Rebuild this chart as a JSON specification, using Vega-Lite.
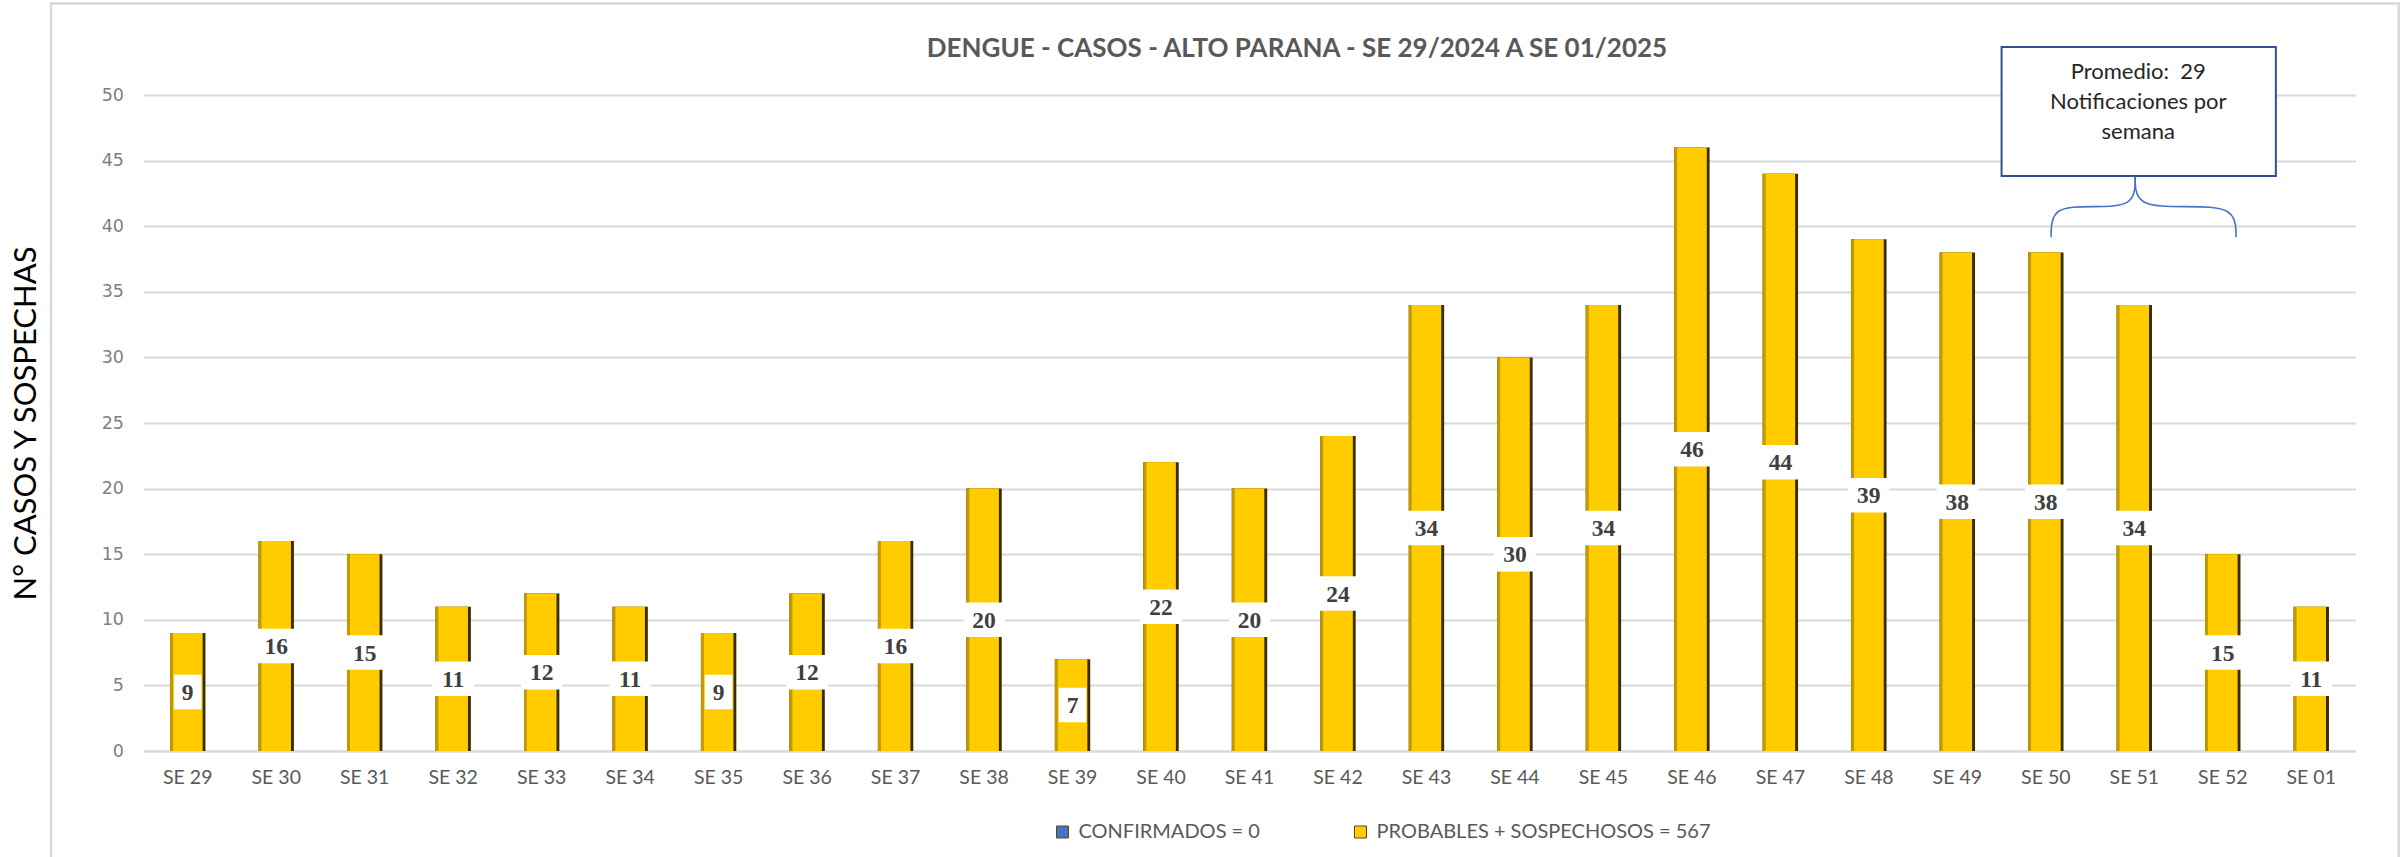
{
  "$schema": "https://vega.github.io/schema/vega-lite/v6.json",
  "width": 2212,
  "height": 656,
  "autosize": {"type": "none"},
  "padding": {"left": 143.5, "top": 95, "right": 46.5, "bottom": 106},
  "background": "white",
  "title": {
    "text": "DENGUE - CASOS - ALTO PARANA - SE 29/2024 A SE 01/2025",
    "font": "Lato", "fontSize": 26, "fontWeight": "bold", "color": "#595959",
    "anchor": "middle", "frame": "group", "dx": 47.5, "baseline": "middle", "offset": -73
  },
  "config": {"view": {"stroke": null}},
  "datasets": {
    "bars": [
      {"sem": "SE 29", "v": 9, "serie": "PROBABLES + SOSPECHOSOS = 567"},
      {"sem": "SE 30", "v": 16, "serie": "PROBABLES + SOSPECHOSOS = 567"},
      {"sem": "SE 31", "v": 15, "serie": "PROBABLES + SOSPECHOSOS = 567"},
      {"sem": "SE 32", "v": 11, "serie": "PROBABLES + SOSPECHOSOS = 567"},
      {"sem": "SE 33", "v": 12, "serie": "PROBABLES + SOSPECHOSOS = 567"},
      {"sem": "SE 34", "v": 11, "serie": "PROBABLES + SOSPECHOSOS = 567"},
      {"sem": "SE 35", "v": 9, "serie": "PROBABLES + SOSPECHOSOS = 567"},
      {"sem": "SE 36", "v": 12, "serie": "PROBABLES + SOSPECHOSOS = 567"},
      {"sem": "SE 37", "v": 16, "serie": "PROBABLES + SOSPECHOSOS = 567"},
      {"sem": "SE 38", "v": 20, "serie": "PROBABLES + SOSPECHOSOS = 567"},
      {"sem": "SE 39", "v": 7, "serie": "PROBABLES + SOSPECHOSOS = 567"},
      {"sem": "SE 40", "v": 22, "serie": "PROBABLES + SOSPECHOSOS = 567"},
      {"sem": "SE 41", "v": 20, "serie": "PROBABLES + SOSPECHOSOS = 567"},
      {"sem": "SE 42", "v": 24, "serie": "PROBABLES + SOSPECHOSOS = 567"},
      {"sem": "SE 43", "v": 34, "serie": "PROBABLES + SOSPECHOSOS = 567"},
      {"sem": "SE 44", "v": 30, "serie": "PROBABLES + SOSPECHOSOS = 567"},
      {"sem": "SE 45", "v": 34, "serie": "PROBABLES + SOSPECHOSOS = 567"},
      {"sem": "SE 46", "v": 46, "serie": "PROBABLES + SOSPECHOSOS = 567"},
      {"sem": "SE 47", "v": 44, "serie": "PROBABLES + SOSPECHOSOS = 567"},
      {"sem": "SE 48", "v": 39, "serie": "PROBABLES + SOSPECHOSOS = 567"},
      {"sem": "SE 49", "v": 38, "serie": "PROBABLES + SOSPECHOSOS = 567"},
      {"sem": "SE 50", "v": 38, "serie": "PROBABLES + SOSPECHOSOS = 567"},
      {"sem": "SE 51", "v": 34, "serie": "PROBABLES + SOSPECHOSOS = 567"},
      {"sem": "SE 52", "v": 15, "serie": "PROBABLES + SOSPECHOSOS = 567"},
      {"sem": "SE 01", "v": 11, "serie": "PROBABLES + SOSPECHOSOS = 567"}
    ],
    "frame": [
      {"x": -1.0456, "x2": 25.489, "y": 56.97, "y2": -10}
    ],
    "brace": [
      {"g": 1, "o": 1, "x": 21.56, "y": 39.15},
      {"g": 1, "o": 2, "x": 21.56, "y": 41.49},
      {"g": 1, "o": 3, "x": 22.03, "y": 41.49},
      {"g": 1, "o": 4, "x": 22.51, "y": 41.49},
      {"g": 1, "o": 5, "x": 22.51, "y": 43.75},
      {"g": 2, "o": 6, "x": 22.51, "y": 43.75},
      {"g": 2, "o": 7, "x": 22.51, "y": 41.49},
      {"g": 2, "o": 8, "x": 23.08, "y": 41.49},
      {"g": 2, "o": 9, "x": 23.65, "y": 41.49},
      {"g": 2, "o": 10, "x": 23.65, "y": 39.15}
    ],
    "callout": [
      {"x": 21.0, "x2": 24.1, "y": 53.66, "y2": 43.83, "tx": 22.545, "ty": 51.78, "txt": "Promedio:\u00a0 29\nNotificaciones por\nsemana"}
    ]
  },
  "resolve": {"scale": {"x": "independent", "y": "independent"}},
  "layer": [
    {
      "data": {"name": "frame"},
      "mark": {"type": "rect", "fillOpacity": 0, "stroke": "#D9D9D9", "strokeWidth": 2.5, "clip": false},
      "encoding": {
        "x": {"field": "x", "type": "quantitative", "scale": {"domain": [0, 25]}, "axis": null},
        "x2": {"field": "x2"},
        "y": {"field": "y", "type": "quantitative", "scale": {"domain": [0, 50]}, "axis": null},
        "y2": {"field": "y2"}
      }
    },
    {
      "data": {"name": "bars"},
      "mark": {"type": "bar", "color": "#3A2E00"},
      "encoding": {
        "x": {
          "field": "sem", "type": "nominal", "sort": null,
          "scale": {"type": "band", "paddingInner": 0.6, "paddingOuter": 0.3},
          "axis": {
            "title": null, "labelAngle": 0, "ticks": false, "domain": true,
            "domainColor": "#D9D9D9", "domainWidth": 2, "grid": false,
            "labelFont": "Lato", "labelFontSize": 19.5, "labelColor": "#595959", "labelPadding": 17
          }
        },
        "y": {
          "field": "v", "type": "quantitative",
          "scale": {"domain": [0, 50]},
          "axis": {
            "values": [0, 5, 10, 15, 20, 25, 30, 35, 40, 45, 50],
            "grid": true, "gridColor": "#D9D9D9", "gridWidth": 2,
            "domain": false, "ticks": false,
            "labelFont": "DejaVu Sans", "labelFontSize": 17.5, "labelColor": "#7F7F7F", "labelPadding": 20,
            "title": "N° CASOS Y SOSPECHAS", "titleFont": "Lato", "titleFontSize": 31,
            "titleFontWeight": "normal", "titleColor": "#000000",
            "titleX": -117, "titleY": 328, "titleAngle": -90, "titleAlign": "center", "titleBaseline": "middle"
          }
        }
      }
    },
    {
      "data": {"name": "bars"},
      "mark": {"type": "bar", "color": "#C29A00", "width": 32.4, "xOffset": -1.5},
      "encoding": {
        "x": {"field": "sem", "type": "nominal", "sort": null, "scale": {"type": "band", "paddingInner": 0.6, "paddingOuter": 0.3}, "axis": null},
        "y": {"field": "v", "type": "quantitative", "scale": {"domain": [0, 50]}, "axis": null}
      }
    },
    {
      "data": {"name": "bars"},
      "mark": {"type": "bar", "width": 29.4, "opacity": 1},
      "encoding": {
        "x": {"field": "sem", "type": "nominal", "sort": null, "scale": {"type": "band", "paddingInner": 0.6, "paddingOuter": 0.3}, "axis": null},
        "y": {"field": "v", "type": "quantitative", "scale": {"domain": [0, 50]}, "axis": null},
        "color": {
          "field": "serie", "type": "nominal",
          "scale": {"domain": ["CONFIRMADOS = 0", "PROBABLES + SOSPECHOSOS = 567"], "range": ["#4472C4", "#FFCC00"]},
          "legend": {
            "orient": "none", "legendX": 909, "legendY": 727, "direction": "horizontal", "title": null,
            "symbolType": "square", "symbolSize": 144, "symbolStrokeWidth": 1, "symbolStrokeColor": "#5A4A10",
            "labelFont": "Lato", "labelFontSize": 20, "labelColor": "#595959", "labelLimit": 0,
            "columnPadding": 90, "labelOffset": 6
          }
        }
      }
    },
    {
      "data": {"name": "bars"},
      "mark": {"type": "point", "filled": true, "fill": "#FFFFFF", "opacity": 1, "strokeWidth": 0, "size": 1190},
      "encoding": {
        "x": {"field": "sem", "type": "nominal", "sort": null, "scale": {"type": "band", "paddingInner": 0.6, "paddingOuter": 0.3}, "axis": null},
        "y": {"field": "v", "type": "quantitative", "scale": {"domain": [0, 100]}, "axis": null},
        "shape": {"condition": {"test": "datum.v < 10", "value": "M-0.8,-1H0.8V1H-0.8Z"}, "value": "M-1.2,-1H1.2V1H-1.2Z"}
      }
    },
    {
      "data": {"name": "bars"},
      "mark": {"type": "text", "font": "Liberation Serif", "fontWeight": "bold", "fontSize": 23.5, "color": "#404040", "baseline": "middle", "align": "center", "dy": 1},
      "encoding": {
        "x": {"field": "sem", "type": "nominal", "sort": null, "scale": {"type": "band", "paddingInner": 0.6, "paddingOuter": 0.3}, "axis": null},
        "y": {"field": "v", "type": "quantitative", "scale": {"domain": [0, 100]}, "axis": null},
        "text": {"field": "v", "type": "quantitative"}
      }
    },
    {
      "data": {"name": "brace"},
      "mark": {"type": "line", "interpolate": "basis", "stroke": "#4472C4", "strokeWidth": 1.6, "clip": false},
      "encoding": {
        "x": {"field": "x", "type": "quantitative", "scale": {"domain": [0, 25]}, "axis": null},
        "y": {"field": "y", "type": "quantitative", "scale": {"domain": [0, 50]}, "axis": null},
        "detail": {"field": "g", "type": "nominal"},
        "order": {"field": "o", "type": "quantitative"}
      }
    },
    {
      "data": {"name": "callout"},
      "mark": {"type": "rect", "fill": "#FFFFFF", "stroke": "#2F528F", "strokeWidth": 2, "clip": false},
      "encoding": {
        "x": {"field": "x", "type": "quantitative", "scale": {"domain": [0, 25]}, "axis": null},
        "x2": {"field": "x2"},
        "y": {"field": "y", "type": "quantitative", "scale": {"domain": [0, 50]}, "axis": null},
        "y2": {"field": "y2"}
      }
    },
    {
      "data": {"name": "callout"},
      "mark": {"type": "text", "font": "Lato", "fontSize": 22, "color": "#262626", "lineBreak": "\n", "lineHeight": 30, "align": "center", "baseline": "middle", "clip": false},
      "encoding": {
        "x": {"field": "tx", "type": "quantitative", "scale": {"domain": [0, 25]}, "axis": null},
        "y": {"field": "ty", "type": "quantitative", "scale": {"domain": [0, 50]}, "axis": null},
        "text": {"field": "txt", "type": "nominal"}
      }
    }
  ]
}
